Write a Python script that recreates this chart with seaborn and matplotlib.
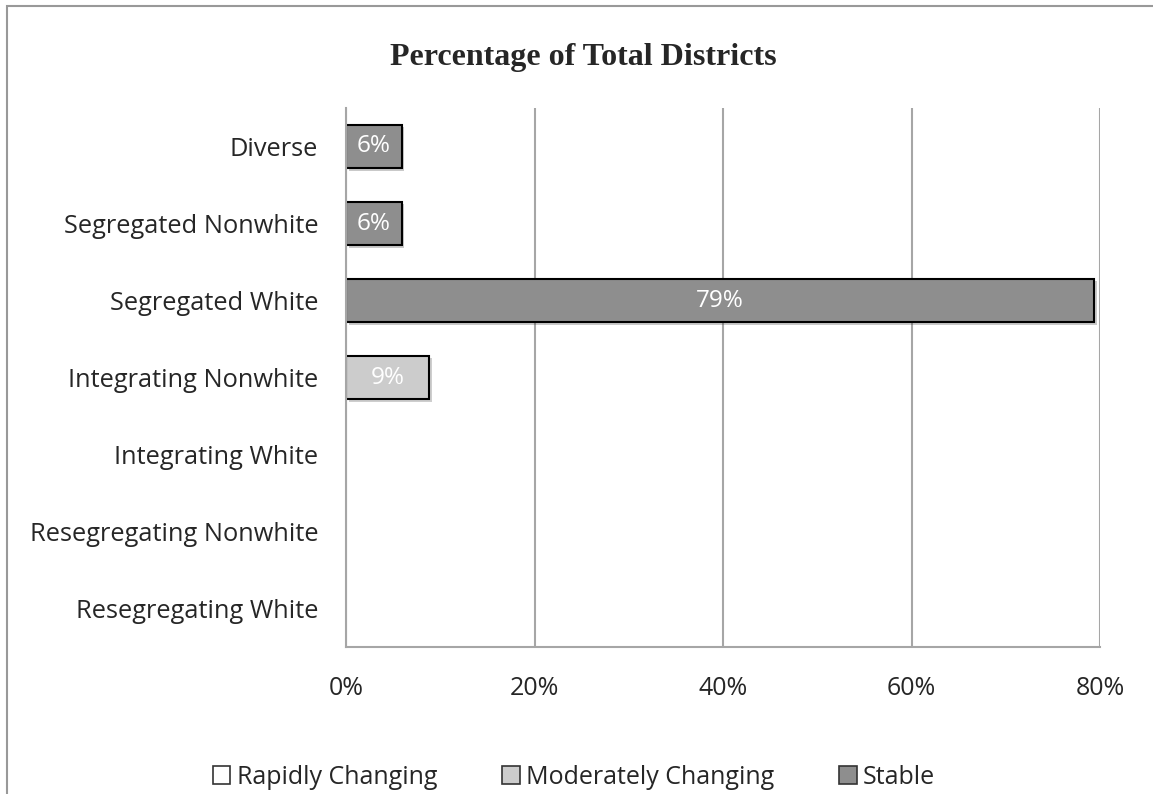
import seaborn as sns
import matplotlib.pyplot as plt
import pandas as pd
from matplotlib.patches import Patch, Rectangle
import matplotlib.patheffects as pe

# datos
categorias = ['Diverse', 'Segregated Nonwhite', 'Segregated White', 'Integrating Nonwhite',
              'Integrating White', 'Resegregating Nonwhite', 'Resegregating White']
rapidly = [0, 0, 0, 0, 0, 0, 0]
moderately = [0, 0, 0, 8.8, 0, 0, 0]
stable = [5.9, 5.9, 79.4, 0, 0, 0, 0]
series = ['Rapidly Changing', 'Moderately Changing', 'Stable']
colores = ['#FFFFFF', '#CCCCCC', '#8E8E8E']
xticks = [0, 20, 40, 60, 80]

df = pd.DataFrame({'categoria': categorias, 'Rapidly Changing': rapidly,
                   'Moderately Changing': moderately, 'Stable': stable})

sns.set_style('white')
plt.rcParams['font.family'] = ['Open Sans', 'DejaVu Sans']

fig = plt.figure(figsize=(11.53, 7.94), dpi=100)
ax = fig.add_axes([346 / 1153, 1 - 647 / 794, (1100 - 346) / 1153, (647 - 108) / 794])

acumulado = pd.Series([0.0] * len(categorias))
for nombre, color in zip(series, colores):
    valores = df[nombre]
    sub = df[valores > 0]
    if len(sub) > 0:
        sns.barplot(data=sub, y='categoria', x=nombre, order=categorias, color=color,
                    orient='h', width=0.57, edgecolor='black', linewidth=1.5,
                    left=acumulado[valores > 0].values, ax=ax, saturation=1)
        cont = ax.containers[-1]
        for barra in cont:
            barra.set_path_effects([pe.SimplePatchShadow(offset=(2, -2), alpha=0.25), pe.Normal()])
        ax.bar_label(cont, labels=[f'{v:.0f}%' for v in sub[nombre]], label_type='center',
                     color='white', fontsize=17.5)
    acumulado = acumulado + valores

ax.set_xlim(0, 80)
ax.set_ylim(len(categorias) - 0.5, -0.5)
ax.set_xticks(xticks)
ax.set_xticklabels([f'{t}%' for t in xticks], fontsize=18)
ax.tick_params(axis='y', labelsize=18.3, length=0, pad=20)
ax.tick_params(axis='x', length=8, color='#A6A6A6', width=1.5, pad=13)
ax.set_xlabel('')
ax.set_ylabel('')
ax.grid(True, axis='x', color='#A6A6A6', linewidth=1.5)
ax.set_axisbelow(True)
for lado in ['top', 'right']:
    ax.spines[lado].set_visible(False)
for lado in ['left', 'bottom']:
    ax.spines[lado].set_color('#A6A6A6')
    ax.spines[lado].set_linewidth(1.5)

fig.text(583 / 1153, 1 - 57 / 794, 'Percentage of Total Districts', ha='center', va='center',
         fontsize=23, fontweight='bold', family='Liberation Serif')

handles = [Patch(facecolor=c, edgecolor='#333333', linewidth=1.2) for c in colores]
fig.legend(handles, series, loc='center', bbox_to_anchor=(574 / 1153, 1 - 777 / 794), ncol=3,
           frameon=False, fontsize=18, handlelength=0.7, handleheight=0.75,
           handletextpad=0.25, columnspacing=2.6)

fig.patches.append(Rectangle((7 / 1153, -0.05), 1.2, 1 - 6 / 794 + 0.05, transform=fig.transFigure,
                             fill=False, edgecolor='#999999', linewidth=1.5))

plt.savefig('out.png', dpi=100)
